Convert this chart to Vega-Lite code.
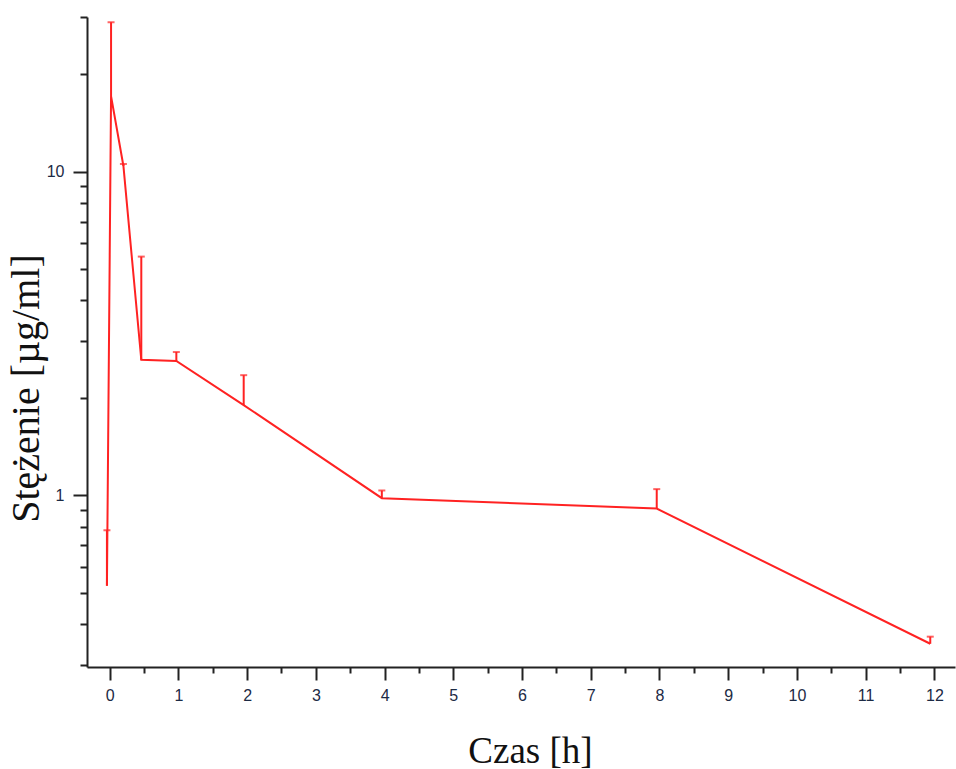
{
  "$schema": "https://vega.github.io/schema/vega-lite/v6.json",
  "autosize": {"type": "none"},
  "width": 868,
  "height": 650,
  "padding": {"left": 87, "top": 17, "right": 1, "bottom": 102},
  "background": "white",
  "config": {"view": {"stroke": null}},
  "data": {
    "values": [
      {"t": -0.04, "c": 0.526, "cerr": 0.78},
      {"t": 0.02, "c": 17.1, "cerr": 28.9},
      {"t": 0.2, "c": 10.4, "cerr": 10.55},
      {"t": 0.46, "c": 2.62, "cerr": 5.46},
      {"t": 0.97, "c": 2.6, "cerr": 2.77},
      {"t": 1.95, "c": 1.9, "cerr": 2.35},
      {"t": 3.96, "c": 0.98, "cerr": 1.035},
      {"t": 7.96, "c": 0.91, "cerr": 1.045},
      {"t": 11.94, "c": 0.348, "cerr": 0.366}
    ]
  },
  "resolve": {"axis": {"x": "independent", "y": "independent"}},
  "layer": [
    {
      "mark": {"type": "rule", "color": "#ff2222", "strokeWidth": 2},
      "encoding": {
        "x": {
          "field": "t",
          "type": "quantitative",
          "scale": {"domain": [-0.33, 12.3], "nice": false, "zero": false},
          "axis": {
            "orient": "bottom",
            "title": "Czas [h]",
            "titleFont": "Liberation Serif",
            "titleFontSize": 37,
            "titleFontWeight": "normal",
            "titleColor": "#111",
            "titleX": 443,
            "titleY": 84,
            "titleBaseline": "middle",
            "titleAnchor": null,
            "values": [0, 1, 2, 3, 4, 5, 6, 7, 8, 9, 10, 11, 12],
            "format": "d",
            "labelFont": "Liberation Sans",
            "labelFontSize": 16,
            "labelColor": "#1c2a44",
            "labelPadding": 7,
            "labelFlush": false,
            "labelOverlap": false,
            "tickSize": 13,
            "tickWidth": 2,
            "tickColor": "#222",
            "domainColor": "#222",
            "domainWidth": 2,
            "grid": false
          }
        },
        "y": {
          "field": "c",
          "type": "quantitative",
          "scale": {"type": "log", "domain": [0.295, 30], "nice": false},
          "axis": {
            "orient": "left",
            "title": "Stężenie [µg/ml]",
            "titleFont": "Liberation Serif",
            "titleFontSize": 40,
            "titleFontWeight": "normal",
            "titleColor": "#111",
            "titleX": -61,
            "titleY": 371,
            "titleAngle": -90,
            "titleBaseline": "middle",
            "titleAlign": "center",
            "titleAnchor": null,
            "values": [1, 10],
            "format": "d",
            "labelFont": "Liberation Sans",
            "labelFontSize": 16,
            "labelColor": "#1c2a44",
            "labelPadding": 9,
            "labelFlush": false,
            "labelOverlap": false,
            "tickSize": 14,
            "tickWidth": 2,
            "tickColor": "#222",
            "domainColor": "#222",
            "domainWidth": 2,
            "grid": false
          }
        },
        "y2": {"field": "cerr"}
      }
    },
    {
      "mark": {"type": "tick", "color": "#ff2222", "orient": "horizontal", "size": 7, "thickness": 2},
      "encoding": {
        "x": {
          "field": "t",
          "type": "quantitative",
          "scale": {"domain": [-0.33, 12.3], "nice": false, "zero": false},
          "axis": {
            "orient": "bottom",
            "title": null,
            "values": [0.5, 1.5, 2.5, 3.5, 4.5, 5.5, 6.5, 7.5, 8.5, 9.5, 10.5, 11.5],
            "labels": false,
            "domain": false,
            "tickSize": 6,
            "tickWidth": 2,
            "tickColor": "#222",
            "grid": false
          }
        },
        "y": {
          "field": "cerr",
          "type": "quantitative",
          "scale": {"type": "log", "domain": [0.295, 30], "nice": false},
          "axis": {
            "orient": "left",
            "title": null,
            "values": [0.3, 0.4, 0.5, 0.6, 0.7, 0.8, 0.9, 2, 3, 4, 5, 6, 7, 8, 9, 20, 30],
            "labels": false,
            "domain": false,
            "tickSize": 7,
            "tickWidth": 2,
            "tickColor": "#222",
            "grid": false
          }
        }
      }
    },
    {
      "mark": {"type": "line", "color": "#ff2222", "strokeWidth": 2},
      "encoding": {
        "x": {"field": "t", "type": "quantitative", "axis": null},
        "y": {"field": "c", "type": "quantitative", "axis": null}
      }
    }
  ]
}
